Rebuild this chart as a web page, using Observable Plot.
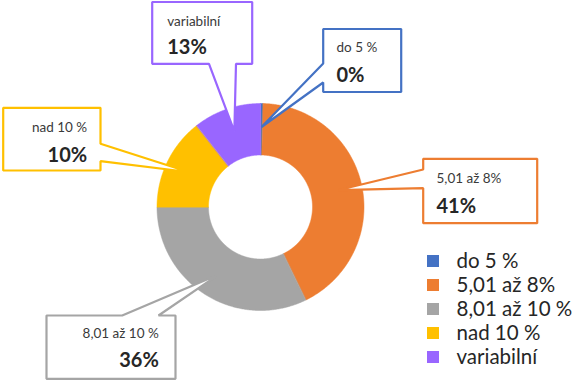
<!DOCTYPE html>
<html><head><meta charset="utf-8">
<script src="https://cdn.jsdelivr.net/npm/d3@7"></script>
<script src="https://cdn.jsdelivr.net/npm/@observablehq/plot@0.6"></script>
<style>body{margin:0;background:#fff}</style>
</head><body><div id="chart"></div>
<script>
// ---- data ----
const categories = ["do 5 %", "5,01 až 8%", "8,01 až 10 %", "nad 10 %", "variabilní"];
const shares = [0.4, 42.4, 32.2, 14.4, 10.6];          // slice sizes as drawn
const valueLabels = ["0%", "41%", "36%", "10%", "13%"]; // printed data labels
const colors = ["#4472C4", "#ED7D31", "#A5A5A5", "#FFC000", "#9966FF"];

// ---- layout ----
const W = 572, H = 380;
const cx = 260, cy = 206.5, rOuter = 103.5, rInner = 52, rTip = 80;
const boxLayout = [
  {x1: 322.7, y1: 28.5, x2: 400.7, y2: 91.5, side: "left", w1: 63, w2: 82, anchor: "start", tx: 336, ly: 51.7, vy: 81.7},
  {x1: 422.7, y1: 158.3, x2: 536.7, y2: 222.7, side: "left", w1: 169, w2: 187.7, anchor: "start", tx: 436, ly: 182.3, vy: 212.7},
  {x1: 46, y1: 315, x2: 175, y2: 378.3, side: "top", w1: 121.7, w2: 158, anchor: "end", tx: 158.3, ly: 337.3, vy: 366.7},
  {x1: 2.7, y1: 107.3, x2: 100, y2: 170, side: "right", w1: 143.3, w2: 160.7, anchor: "end", tx: 86.7, ly: 131.7, vy: 161},
  {x1: 151.7, y1: 1.5, x2: 251.7, y2: 63.3, side: "bottom", w1: 208.5, w2: 235.5, anchor: "start", tx: 166.7, ly: 25, vy: 53}
];
const legendX = 427, legendTextX = 456, legendY0 = 261, legendStep = 24;

// ---- geometry ----
const pie = d3.pie().sort(null).value(d => d)(shares);
const pt = (a, r) => [cx + r * Math.sin(a), cy - r * Math.cos(a)];
const slicePts = [];
pie.forEach((s, i) => {
  const n = Math.max(4, Math.ceil((s.endAngle - s.startAngle) / 0.01));
  for (let k = 0; k <= n; k++) {
    const a = s.startAngle + (s.endAngle - s.startAngle) * k / n;
    const [x, y] = pt(a, rOuter);
    slicePts.push({cat: categories[i], x, y});
  }
  for (let k = n; k >= 0; k--) {
    const a = s.startAngle + (s.endAngle - s.startAngle) * k / n;
    const [x, y] = pt(a, rInner);
    slicePts.push({cat: categories[i], x, y});
  }
});

const boxPts = [];
const labelRows = [];
pie.forEach((s, i) => {
  const b = boxLayout[i];
  const [tx, ty] = pt((s.startAngle + s.endAngle) / 2, rTip);
  const tip = [tx, ty];
  const p = [];
  p.push([b.x1, b.y1]);
  if (b.side === "top") p.push([b.w1, b.y1], tip, [b.w2, b.y1]);
  p.push([b.x2, b.y1]);
  if (b.side === "right") p.push([b.x2, b.w1], tip, [b.x2, b.w2]);
  p.push([b.x2, b.y2]);
  if (b.side === "bottom") p.push([b.w2, b.y2], tip, [b.w1, b.y2]);
  p.push([b.x1, b.y2]);
  if (b.side === "left") p.push([b.x1, b.w2], tip, [b.x1, b.w1]);
  p.forEach(([x, y]) => boxPts.push({cat: categories[i], x, y}));
  labelRows.push({cat: categories[i], value: valueLabels[i], x: b.tx, ly: b.ly, vy: b.vy, anchor: b.anchor});
});

const legendRows = categories.map((c, i) => ({cat: c, y: legendY0 + i * legendStep}));

const font = "Lato, 'Open Sans', sans-serif";
const chart = Plot.plot({
  width: W, height: H,
  margin: 0,
  x: {domain: [0, W], range: [0, W], axis: null},
  y: {domain: [0, H], range: [0, H], axis: null},
  color: {domain: categories, range: colors},
  style: {fontFamily: font, background: "#fff"},
  marks: [
    Plot.line(slicePts, {x: "x", y: "y", z: "cat", fill: "cat", stroke: "cat", strokeWidth: 0.5, curve: "linear-closed"}),
    Plot.line(boxPts, {x: "x", y: "y", z: "cat", fill: "white", stroke: "cat", strokeWidth: 2.2, strokeLinejoin: "miter", curve: "linear-closed"}),
    ...["start", "end"].map(anchor => Plot.text(labelRows.filter(d => d.anchor === anchor), {
      x: "x", y: "ly", text: "cat", textAnchor: anchor, lineAnchor: "bottom",
      fontSize: 13.5, fill: "#3a3a3a"
    })),
    ...["start", "end"].map(anchor => Plot.text(labelRows.filter(d => d.anchor === anchor), {
      x: "x", y: "vy", text: "value", textAnchor: anchor, lineAnchor: "bottom",
      fontSize: 20, fontWeight: 700, fill: "#262626"
    })),
    Plot.rect(legendRows, {x1: () => legendX, x2: () => legendX + 12, y1: d => d.y - 6, y2: d => d.y + 6, fill: "cat"}),
    Plot.text(legendRows, {x: () => legendTextX, y: "y", text: "cat", textAnchor: "start", lineAnchor: "middle", fontSize: 20.5, fill: "#262626"})
  ]
});
document.getElementById("chart").appendChild(chart);
</script>
</body></html>
